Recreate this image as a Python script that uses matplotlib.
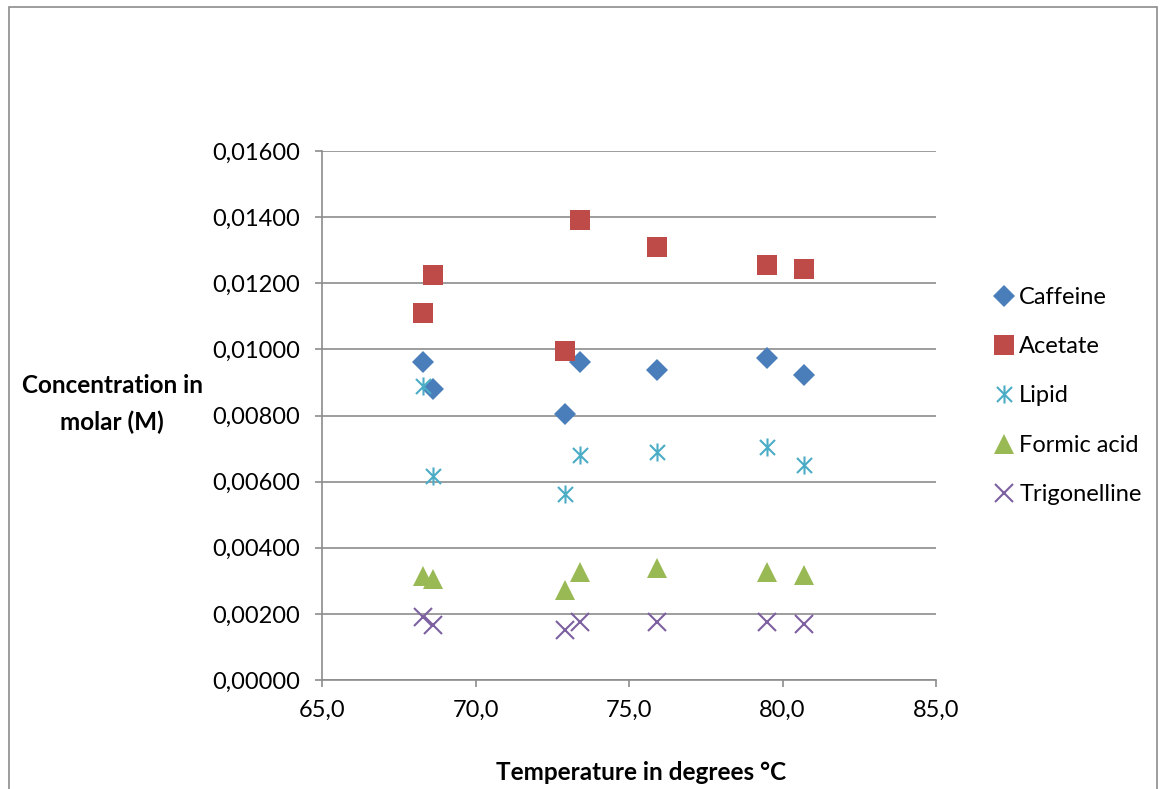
import matplotlib
matplotlib.use("Agg")
import matplotlib.pyplot as plt
from matplotlib.patches import Rectangle
from matplotlib.path import Path
from matplotlib.ticker import FuncFormatter, MultipleLocator

plt.rcParams['font.family'] = ['Lato', 'DejaVu Sans']

# temperatures (degrees C) of the seven samples
temperature = [68.3, 68.6, 72.9, 73.4, 75.9, 79.5, 80.7]

# concentrations in molar
caffeine = [0.00962, 0.00880, 0.00806, 0.00962, 0.00937, 0.00975, 0.00922]
acetate = [0.01110, 0.01226, 0.00994, 0.01391, 0.01310, 0.01254, 0.01242]
lipid = [0.00889, 0.00617, 0.00562, 0.00681, 0.00690, 0.00706, 0.00650]
formic_acid = [0.00316, 0.00305, 0.00271, 0.00328, 0.00338, 0.00328, 0.00319]
trigonelline = [0.00190, 0.00165, 0.00150, 0.00176, 0.00175, 0.00175, 0.00170]

# excel style star: an X with a vertical bar through it
star = Path([(-1, -1), (1, 1), (-1, 1), (1, -1), (0, -1.2), (0, 1.2)],
            [Path.MOVETO, Path.LINETO, Path.MOVETO, Path.LINETO, Path.MOVETO, Path.LINETO])

series = [
    ("Caffeine", caffeine, "D", "#4a7ebb", 11.5, False),
    ("Acetate", acetate, "s", "#be4b48", 14, False),
    ("Lipid", lipid, star, "#4bacc6", 13, True),
    ("Formic acid", formic_acid, "^", "#98b954", 14.5, False),
    ("Trigonelline", trigonelline, "x", "#7d60a0", 13, True),
]

fig = plt.figure(figsize=(11.6, 7.89), dpi=100)
fig.patches.append(Rectangle((9 / 1160, -0.01), 1148 / 1160, 1 - 7 / 789 + 0.01,
                             transform=fig.transFigure, fill=False,
                             edgecolor="#8c8c8c", linewidth=1.2))

ax = fig.add_axes([322 / 1160, 109 / 789, 614 / 1160, 529 / 789])

for name, vals, marker, color, size, is_line in series:
    if is_line:
        ax.plot(temperature, vals, linestyle="none", marker=marker, color=color,
                markersize=size, markeredgewidth=1.5, label=name, clip_on=False)
    else:
        ax.plot(temperature, vals, linestyle="none", marker=marker, color=color,
                markersize=size, markeredgewidth=0, label=name, clip_on=False)

ax.set_xlim(65, 85)
ax.set_ylim(0, 0.016)
ax.xaxis.set_major_locator(MultipleLocator(5))
ax.yaxis.set_major_locator(MultipleLocator(0.002))
ax.xaxis.set_major_formatter(FuncFormatter(lambda v, p: f"{v:.1f}".replace(".", ",")))
ax.yaxis.set_major_formatter(FuncFormatter(lambda v, p: f"{v:.5f}".replace(".", ",")))

ax.grid(axis="y", color="#8c8c8c", linewidth=1.2)
ax.set_axisbelow(True)
for s in ("top", "right"):
    ax.spines[s].set_visible(False)
for s in ("left", "bottom"):
    ax.spines[s].set_color("#8c8c8c")
    ax.spines[s].set_linewidth(1.2)
ax.tick_params(axis="both", colors="#8c8c8c", labelcolor="black", labelsize=17,
               length=5, width=1.2)
ax.tick_params(axis="y", pad=11)
ax.tick_params(axis="x", pad=9)

fig.text(112 / 1160, 1 - 404 / 789, "Concentration in\nmolar (M)", fontsize=17.5,
         fontweight="bold", ha="center", va="center", linespacing=1.7)
fig.text(641 / 1160, 1 - 772 / 789, "Temperature in degrees °C", fontsize=17.5,
         fontweight="bold", ha="center", va="center")

ax.legend(loc="center left", bbox_to_anchor=(978 / 1160, 1 - 396 / 789),
          bbox_transform=fig.transFigure, frameon=False, fontsize=17,
          handletextpad=0.05, labelspacing=1.2, handlelength=1.2, borderpad=0)

fig.savefig("out.png", dpi=100)
